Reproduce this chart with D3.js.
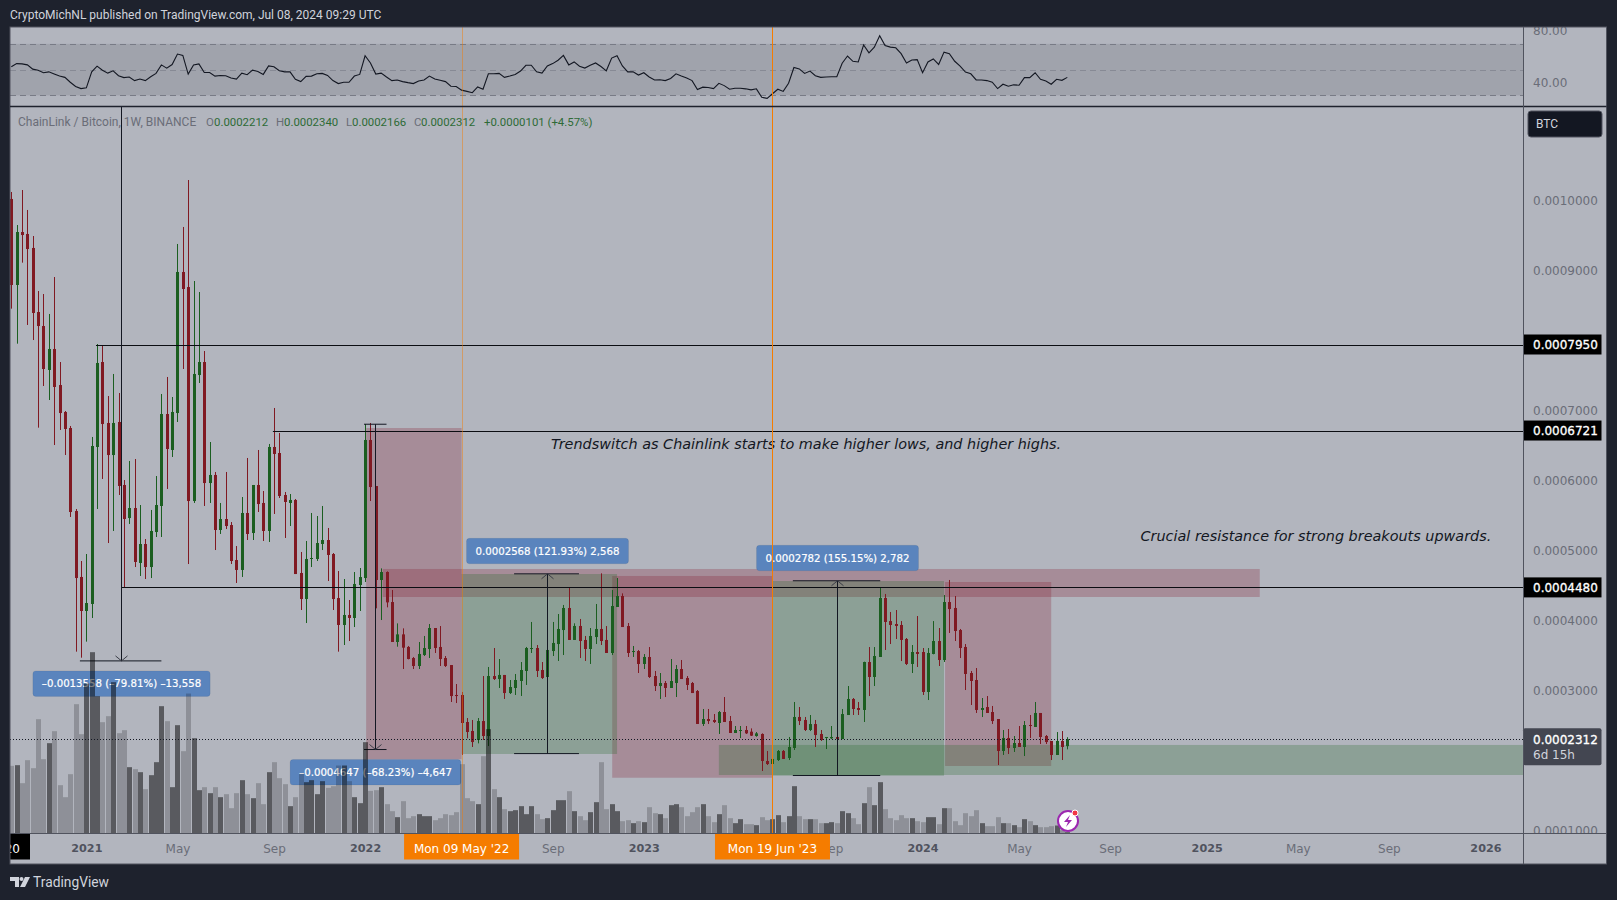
<html>

<head>
    <style>
        body { margin: 0; background: #1e222d; }
        svg { display: block; }
        text { font-family: "DejaVu Sans", sans-serif; }
        .head { font-family: Roboto, sans-serif; font-size: 12px; }
    </style>
</head>

<body>
    <svg id="container" width="1617" height="900"></svg>
</body>

<script src="https://cdn.jsdelivr.net/npm/d3@7"></script>
<script>
    // prices are in ticks of 0.0000001, weeks count from Mon 28 Sep 2020
    let opens = [
        10029,8800,9557,9529,9329,8414,8214,7586,7886,7371,
        6986,6757,5571,4629,4143,4243,6486,7700,6829,6371,
        6843,5943,5471,5614,4829,5100,4771,5271,5643,6957,
        6443,6971,8986,8771,5714,7514,7700,5971,6086,5300,
        5457,5371,4871,4729,5543,5257,5943,5686,5286,6486,
        6400,5800,5686,5729,4686,4314,4886,4886,5100,5157,
        4957,4328,3943,4086,4043,4514,4614,6586,5928,4586,
        4700,4271,3700,3809,3629,3471,3357,3514,3600,3900,
        3629,3471,3371,2943,2943,2557,2429,2300,2571,2357,
        3214,3171,3229,2971,3043,3143,3286,3600,3614,3300,
        3200,3571,3671,3871,4186,3729,3929,3729,3600,3771,
        3886,3729,3543,4200,4357,3928,3557,3571,3386,3486,
        3214,3071,3114,3043,3114,3314,3186,3114,3000,2529,
        2600,2586,2543,2700,2571,2400,2429,2443,2419,2357,
        2386,2000,1957,2014,2143,2043,2186,2629,2586,2443,
        2528,2386,2329,2324,2343,2314,2657,2886,2757,2729,
        3414,3200,3486,4329,3999,3957,3943,3743,3386,3557,
        3557,2986,3529,3714,3443,4271,4186,3871,3629,3257,
        3157,2729,2771,2700,2600,2143,2329,2186,2257,2200,
        2514,2486,2686,2357,2286,2086,2286,2212]
    let highs = [
        10129,9657,10157,9872,9500,8714,8671,8386,8914,7700,
        7000,6786,5600,4857,4957,6629,7957,7929,7214,7529,
        7257,6014,6286,6314,5657,5171,5586,6071,7243,7486,
        7200,9386,9629,10300,8857,8700,7857,6557,6129,5686,
        6129,5414,5071,5771,6329,5943,6443,5857,6529,7043,
        6686,5843,5814,5743,4986,5143,5543,5500,5643,5329,
        4971,4714,4600,4300,4700,4757,6814,6829,5928,4752,
        4709,4443,3966,3895,3643,3486,3700,3786,3957,3900,
        3928,3500,3371,3100,2986,2614,2586,2614,3214,3343,
        3614,3457,3229,3157,3243,3414,3629,3986,3657,3414,
        3857,3986,4100,4229,4471,3967,4029,3786,3900,4243,
        4681,3928,4443,4614,4395,3971,3643,3586,3528,3628,
        3286,3257,3143,3457,3371,3443,3214,3129,3014,2743,
        2743,2671,2714,2914,2643,2500,2500,2500,2466,2414,
        2395,2143,2086,2157,2157,2343,2843,2771,2629,2657,
        2586,2443,2343,2500,2419,2743,3071,2900,2843,3419,
        3628,3628,4471,4386,4129,4157,3999,3757,3657,4071,
        3614,3614,3999,3900,4371,4586,4357,3886,3671,3286,
        3328,2900,2928,2786,2600,2443,2457,2357,2500,2571,
        2657,2843,2686,2371,2286,2414,2428,2340]
    let lows = [
        8462,7962,9119,8229,8014,6762,7357,7157,6514,6729,
        6371,5486,3562,3476,3705,4043,5600,6029,5114,5286,
        5800,4480,5386,4771,4643,4600,4614,5200,5200,5886,
        6343,6843,7600,4814,5686,7400,5643,5686,5014,5243,
        5314,4814,4543,4629,5157,5157,5557,5143,5129,5529,
        5757,5186,5357,4671,4157,3971,4771,4857,5014,4571,
        4157,3562,3657,3714,3914,4143,4557,5714,4181,4014,
        4195,3700,3633,3314,3452,3314,3314,3500,3471,3543,
        3357,3343,2843,2828,2086,2324,2200,2252,2300,2214,
        3157,3043,2886,2957,2943,2929,3086,3543,3200,3171,
        3200,3500,3429,3514,3729,3729,3471,3429,3386,3671,
        3657,3543,3514,4200,3914,3486,3486,3257,3314,3186,
        3000,2886,2914,3043,2914,3171,3014,2971,2529,2500,
        2529,2543,2386,2557,2400,2400,2328,2386,2357,2347,
        1857,1943,1814,2000,2029,2014,2157,2514,2428,2428,
        2200,2286,2171,2314,2286,2314,2657,2657,2657,2557,
        2928,3071,3486,3586,3671,3743,3428,3371,3257,3343,
        2943,2871,3524,3357,3414,3829,3714,3471,3014,2800,
        2686,2628,2686,2529,1943,2086,2100,2129,2200,2071,
        2329,2486,2243,2243,2014,2086,2014,2166]
    let closes = [
        8800,9557,9514,9314,8400,8214,7600,7886,7343,6971,
        6743,5557,4614,4143,4257,6500,7686,6814,6371,6829,
        5929,5457,5614,4843,5100,4771,5286,5657,6957,6457,
        6986,8986,8743,5714,7529,7700,5971,6086,5300,5457,
        5357,4857,4729,5543,5243,5943,5671,5286,6486,6386,
        5786,5700,5729,4671,4314,4886,4900,5114,5157,4943,
        4314,3943,4086,4043,4529,4628,6586,5914,4586,4700,
        4266,3700,3809,3619,3457,3357,3529,3614,3900,3614,
        3457,3357,2928,2928,2543,2414,2271,2571,2357,3214,
        3171,3229,2971,3057,3157,3300,3614,3614,3286,3186,
        3586,3686,3886,4186,3729,3929,3714,3600,3786,3886,
        3714,3543,4214,4357,3914,3543,3571,3386,3486,3200,
        3071,3114,3043,3143,3314,3171,3086,2971,2529,2600,
        2571,2557,2700,2557,2400,2443,2443,2395,2362,2395,
        2000,1957,2029,2143,2029,2200,2629,2571,2443,2528,
        2371,2300,2343,2343,2314,2671,2886,2743,2729,3414,
        3200,3500,4329,3986,3943,3929,3729,3386,3557,3529,
        2986,3543,3714,3443,4271,4171,3857,3614,3243,3143,
        2729,2757,2686,2571,2143,2329,2186,2257,2200,2514,
        2500,2686,2343,2271,2086,2286,2200,2312]
    let volumes = [
        203,205,151,220,196,343,223,271,307,145,
        109,178,388,298,450,544,412,334,352,454,
        301,310,199,193,184,133,175,214,382,337,
        139,325,247,420,286,130,139,121,139,109,
        118,76,121,160,118,106,151,88,184,214,
        166,148,82,109,180,154,160,118,157,137,
        142,204,204,157,109,91,274,128,130,139,
        88,67,49,97,46,52,58,52,52,40,
        46,58,55,64,208,106,97,88,232,313,
        133,109,73,67,70,82,58,82,58,43,
        46,70,100,100,127,67,52,40,64,94,
        214,73,88,67,37,40,31,37,34,79,
        61,58,46,85,88,79,52,64,79,88,
        52,34,58,85,46,31,43,28,28,25,
        49,40,43,55,34,52,142,52,43,43,
        43,31,31,34,31,67,61,46,28,91,
        139,85,154,73,46,40,55,46,46,37,
        34,49,49,28,76,76,37,25,61,52,
        70,31,22,22,49,31,31,25,19,43,
        37,25,19,19,22,24,10,4]
    let rsi = [
        52.2,54.7,54.5,53.7,50.4,49.6,47.6,48.3,46.6,45.0,
        44.0,40.2,36.9,35.3,35.9,48.3,52.7,49.6,47.3,49.1,
        45.3,43.8,44.3,41.5,42.7,41.5,44.5,47.1,53.7,51.2,
        54.0,62.1,61.1,46.6,53.7,54.5,47.8,47.8,45.0,45.5,
        45.3,43.5,42.7,47.3,46.1,49.6,48.6,46.3,52.9,52.2,
        49.1,48.3,48.3,42.5,40.7,44.8,45.0,46.8,47.1,45.5,
        41.5,39.2,40.2,40.2,45.0,46.3,60.8,55.2,46.6,47.3,
        44.3,41.5,42.0,40.7,39.9,39.2,41.2,42.0,45.0,42.7,
        41.7,40.7,37.1,36.9,34.1,33.1,32.1,36.6,34.8,46.8,
        46.8,47.1,44.0,45.0,46.3,48.9,53.4,53.4,48.3,47.3,
        52.9,54.7,57.3,61.1,53.7,56.0,52.7,51.2,53.4,55.2,
        52.4,49.1,59.0,60.8,52.9,48.3,48.3,45.8,47.6,44.3,
        42.0,42.2,41.5,43.2,46.8,45.0,43.5,41.5,34.6,36.4,
        36.1,35.3,39.4,37.6,34.8,35.6,35.6,35.1,34.3,35.1,
        28.5,27.7,31.3,34.8,33.1,39.4,51.7,50.6,47.1,48.9,
        45.3,44.0,44.3,44.5,44.5,55.0,60.6,56.5,56.0,69.2,
        63.1,67.5,76.4,68.7,67.5,67.0,62.4,55.2,57.5,57.8,
        47.6,56.0,58.3,54.0,63.6,62.4,56.5,52.7,48.1,46.8,
        42.0,42.0,41.5,40.2,35.3,38.7,37.1,38.2,37.9,43.8,
        43.8,47.6,42.5,41.2,38.7,42.5,41.7,44.0]

    let timeWeeks = [14, 31, 49, 66, 101, 118, 153, 170, 188, 205, 223, 240, 257, 275]
    let timeLabels = ["2021", "May", "Sep", "2022", "Sep", "2023", "Sep", "2024", "May", "Sep", "2025", "May", "Sep", "2026"]
    let yearLabels = ["2021", "2022", "2023", "2024", "2025", "2026"]
    let priceTicks = [1000, 3000, 4000, 5000, 6000, 7000, 9000, 10000]
    let rsiTicks = [40, 80]
    let rsiLevels = [70, 50, 30]

    let lastPrice = 2312
    let levels = [7950, 6721, 4480]
    let levelStart = [15.8, 48.8, 20.65]
    let markerWeeks = [84, 142]
    let markerLabels = ["Mon 09 May '22", "Mon 19 Jun '23"]

    // week from, week to, price top, price bottom
    let redBoxes = [[66.2, 84, 6757, 2024], [69.3, 232.9, 4743, 4343], [112.1, 142, 4643, 1761], [174.2, 194, 4557, 1929]]
    let greenBoxes = [[84, 113, 4671, 2100], [142, 174, 4571, 1790], [132, 282, 2229, 1800]]

    let measureWeeks = [[12.8, 28], [65.8, 70], [93.8, 105.9], [145.8, 162.1]]
    let measureFrom = [16988, 6811, 2106, 1793]
    let measureTo = [3430, 2164, 4674, 4575]
    let measureLabels = ["\u20130.0013558 (\u201379.81%) \u201313,558", "\u20130.0004647 (\u201368.23%) \u20134,647",
        "0.0002568 (121.93%) 2,568", "0.0002782 (155.15%) 2,782"]

    let left = 10, axisX = 1523, right = 1606.5
    let rsiTop = 27, mainTop = 107, mainBottom = 833.5, bottom = 864

    let x = d3.scaleLinear().domain([0, 197]).range([11.3, 1067.3])
    let y = d3.scaleLinear().domain([1000, 10000]).range([831, 201])
    let yVolume = d3.scaleLinear().domain([0, 1000]).range([mainBottom, mainBottom - 333.3])
    let yRsi = d3.scaleLinear().domain([30, 70]).range([95.4, 43.9])
    let priceText = d => (d * 1e-7).toFixed(7)

    let svg = d3.select("#container")
    let defs = svg.append("defs")
    function clip(id, x0, y0, w, h) {
        defs.append("clipPath").attr("id", id).append("rect")
            .attr("x", x0).attr("y", y0).attr("width", w).attr("height", h)
    }
    clip("clipMain", left, mainTop, axisX - left, mainBottom - mainTop)
    clip("clipRsi", left, rsiTop, axisX - left, mainTop - rsiTop)
    clip("clipPrice", axisX, mainTop, right - axisX, mainBottom - mainTop)
    clip("clipRsiAxis", axisX, rsiTop, right - axisX, mainTop - rsiTop)
    clip("clipTime", left, mainBottom, axisX - left, bottom - mainBottom)

    svg.append("text").attr("class", "head")
        .attr("x", 10).attr("y", 19).attr("fill", "#d1d4dc")
        .text("CryptoMichNL published on TradingView.com, Jul 08, 2024 09:29 UTC")

    svg.append("rect")
        .attr("x", left).attr("y", rsiTop)
        .attr("width", right - left).attr("height", bottom - rsiTop)
        .attr("fill", "#b2b5be")

    // RSI pane
    let rsiPane = svg.append("g").attr("clip-path", "url(#clipRsi)")
    rsiPane.append("rect")
        .attr("x", left).attr("width", axisX - left)
        .attr("y", yRsi(70)).attr("height", yRsi(30) - yRsi(70))
        .attr("fill", "#787b86").attr("opacity", 0.3)
    rsiPane.selectAll(".level").data(rsiLevels).enter().append("line")
        .attr("x1", left).attr("x2", axisX)
        .attr("y1", d => Math.round(yRsi(d)) + 0.5).attr("y2", d => Math.round(yRsi(d)) + 0.5)
        .attr("stroke", "#787b86")
        .attr("opacity", d => d == 50 ? 0.6 : 1)
        .attr("stroke-dasharray", "6 4")
    rsiPane.append("path")
        .attr("d", d3.line().x((d, i) => x(i)).y(d => yRsi(d))(rsi))
        .attr("fill", "none").attr("stroke", "#131722").attr("stroke-width", 1.1)

    // boxes sit under the candles
    let main = svg.append("g").attr("clip-path", "url(#clipMain)")
    function boxes(data, color) {
        main.selectAll(null).data(data).enter().append("rect")
            .attr("x", d => x(d[0])).attr("width", d => x(d[1]) - x(d[0]))
            .attr("y", d => y(d[2])).attr("height", d => y(d[3]) - y(d[2]))
            .attr("fill", color).attr("opacity", 0.25)
    }
    boxes(redBoxes, "rgb(130,20,40)")
    boxes(greenBoxes, "rgb(26,100,30)")

    let green = "#1b5e20", red = "#801922"
    let candles = main.selectAll(".candle").data(opens).enter().append("g")
    let isUp = i => closes[i] >= opens[i]
    candles.append("line")
        .attr("x1", (d, i) => Math.round(x(i)) + 0.5).attr("x2", (d, i) => Math.round(x(i)) + 0.5)
        .attr("y1", (d, i) => y(highs[i])).attr("y2", (d, i) => y(lows[i]))
        .attr("stroke", (d, i) => isUp(i) ? green : red)
    candles.append("rect")
        .attr("x", (d, i) => Math.round(x(i)) - 1).attr("width", 3)
        .attr("y", (d, i) => y(Math.max(opens[i], closes[i])))
        .attr("height", (d, i) => Math.max(1, Math.abs(y(opens[i]) - y(closes[i]))))
        .attr("fill", (d, i) => isUp(i) ? green : red)

    // level lines
    main.selectAll(".hline").data(levels).enter().append("line")
        .attr("x1", (d, i) => x(levelStart[i])).attr("x2", axisX)
        .attr("y1", d => Math.round(y(d)) + 0.5).attr("y2", d => Math.round(y(d)) + 0.5)
        .attr("stroke", "#0b0d12").attr("stroke-width", 1)

    // measure tools, arrow and two end ticks
    measureLabels.forEach((label, i) => {
        let x0 = x(measureWeeks[i][0]), x1 = x(measureWeeks[i][1])
        let mid = Math.round((x0 + x1) / 2) + 0.5
        let yFrom = y(measureFrom[i]), yTo = y(measureTo[i])
        let dir = yTo > yFrom ? 1 : -1
        let g = main.append("g").attr("fill", "none").attr("stroke", "#131722")
        g.append("path").attr("d", `M${x0},${yFrom}H${x1}M${x0},${yTo}H${x1}M${mid},${yFrom}V${yTo}`)
        g.append("path").attr("d", `M${mid - 6},${yTo - dir * 5}L${mid},${yTo}L${mid + 6},${yTo - dir * 5}`)
            .attr("stroke", "#3a3d47")

        let top = dir > 0 ? yTo + 10 : yTo - 35.5
        let box = main.append("rect")
            .attr("y", top).attr("height", 25.5).attr("rx", 3)
            .attr("fill", "#5a84bd").attr("stroke", "#000").attr("stroke-opacity", 0.06)
        let txt = main.append("text")
            .attr("x", mid).attr("y", top + 16.5).attr("text-anchor", "middle")
            .attr("font-size", 10.2).attr("fill", "#fff").attr("stroke", "#fff").attr("stroke-width", 0.2).text(label)
        let w = txt.node().getComputedTextLength() + 18
        box.attr("x", mid - w / 2).attr("width", w)
    })

    main.append("text").attr("x", 551).attr("y", 449)
        .attr("font-size", 14.4).attr("font-style", "italic").attr("fill", "#131722")
        .text("Trendswitch as Chainlink starts to make higher lows, and higher highs.")
    main.append("text").attr("x", 1140.5).attr("y", 541)
        .attr("font-size", 14.4).attr("font-style", "italic").attr("fill", "#131722")
        .text("Crucial resistance for strong breakouts upwards.")

    // volume goes over everything in the pane, black with alpha
    main.selectAll(".vol").data(volumes).enter().append("rect")
        .attr("x", (d, i) => Math.round(x(i)) - 2).attr("width", 5)
        .attr("y", d => yVolume(d)).attr("height", d => yVolume(0) - yVolume(d))
        .attr("fill", "#000").attr("opacity", (d, i) => isUp(i) ? 0.5 : 0.2)

    main.append("line")
        .attr("x1", left).attr("x2", axisX)
        .attr("y1", Math.round(y(lastPrice)) + 0.5).attr("y2", Math.round(y(lastPrice)) + 0.5)
        .attr("stroke", "#131722").attr("stroke-dasharray", "1 2")

    // date lines run through both panes
    svg.selectAll(".marker").data(markerWeeks).enter().append("line")
        .attr("x1", d => Math.round(x(d)) + 0.5).attr("x2", d => Math.round(x(d)) + 0.5)
        .attr("y1", rsiTop).attr("y2", mainBottom)
        .attr("stroke", "#f57c00").attr("opacity", (d, i) => i == 0 ? 0.45 : 1)

    // spark icon next to the last bar
    let icon = svg.append("g").attr("transform", "translate(1068,821)")
    icon.append("circle").attr("r", 10).attr("fill", "#fff").attr("stroke", "#9c27b0").attr("stroke-width", 2)
    icon.append("path").attr("d", "M2,-6L-4,1H0L-2,6L4,-1H0Z").attr("fill", "#9c27b0")
    icon.append("circle").attr("cx", 7).attr("cy", -8).attr("r", 3).attr("fill", "#f23645").attr("stroke", "#fff")

    // axes
    let timeAxis = svg.append("g").attr("clip-path", "url(#clipTime)")
    let timeG = timeAxis.append("g")
        .attr("transform", `translate(0,${mainBottom})`)
        .call(d3.axisBottom(x).tickValues(timeWeeks).tickSize(0).tickPadding(11)
            .tickFormat((d, i) => timeLabels[i]))
    timeG.select(".domain").remove()
    timeG.selectAll("text")
        .attr("font-family", "DejaVu Sans")
        .attr("font-size", d => yearLabels.includes(timeLabels[timeWeeks.indexOf(d)]) ? 11.2 : 12)
        .attr("fill", d => yearLabels.includes(timeLabels[timeWeeks.indexOf(d)]) ? "#50535e" : "#6a6d78")
        .attr("font-weight", d => yearLabels.includes(timeLabels[timeWeeks.indexOf(d)]) ? "bold" : "normal")

    // black date label cut by the left edge
    timeAxis.append("rect").attr("x", left).attr("y", mainBottom).attr("width", 20).attr("height", 26).attr("fill", "#000")
    timeAxis.append("text").attr("x", 20).attr("y", 853).attr("text-anchor", "end")
        .attr("font-size", 12).attr("fill", "#fff").text("Mon 28 Sep '20")

    markerLabels.forEach((label, i) => {
        let mx = x(markerWeeks[i])
        timeAxis.append("rect").attr("x", mx - 57.5).attr("y", mainBottom).attr("width", 115).attr("height", 26).attr("fill", "#f57c00")
        timeAxis.append("text").attr("x", mx).attr("y", 853).attr("text-anchor", "middle")
            .attr("font-size", 12).attr("fill", "#fff").text(label)
    })

    let priceG = svg.append("g").attr("clip-path", "url(#clipPrice)").append("g")
        .attr("transform", `translate(${axisX},0)`)
        .call(d3.axisRight(y).tickValues(priceTicks).tickSize(0).tickPadding(10).tickFormat(priceText))
    priceG.select(".domain").remove()
    priceG.selectAll("text").attr("font-size", 12).attr("font-family", "DejaVu Sans").attr("fill", "#6a6d78")

    let rsiG = svg.append("g").attr("clip-path", "url(#clipRsiAxis)").append("g")
        .attr("transform", `translate(${axisX},0)`)
        .call(d3.axisRight(yRsi).tickValues(rsiTicks).tickSize(0).tickPadding(10).tickFormat(d => d.toFixed(2)))
    rsiG.select(".domain").remove()
    rsiG.selectAll("text").attr("font-size", 12).attr("font-family", "DejaVu Sans").attr("fill", "#6a6d78")

    // price labels on the axis
    levels.forEach(d => {
        svg.append("rect").attr("x", axisX).attr("y", y(d) - 10).attr("width", 78.5).attr("height", 20).attr("fill", "#000")
        svg.append("text").attr("x", axisX + 10).attr("y", y(d) + 4.5)
            .attr("font-size", 12).attr("stroke", "#fff").attr("stroke-width", 0.3).attr("fill", "#fff").text(priceText(d))
    })
    svg.append("rect").attr("x", axisX).attr("y", y(lastPrice) - 11).attr("width", 78.5).attr("height", 37)
        .attr("rx", 2).attr("fill", "#434651")
    svg.append("text").attr("x", axisX + 10).attr("y", y(lastPrice) + 4.5)
        .attr("font-size", 12).attr("stroke", "#fff").attr("stroke-width", 0.3).attr("fill", "#fff").text(priceText(lastPrice))
    svg.append("text").attr("x", axisX + 10).attr("y", y(lastPrice) + 20)
        .attr("font-size", 12).attr("fill", "#d1d4dc").text("6d 15h")

    // pane borders
    let lineColor = "#50535e"
    svg.append("rect")
        .attr("x", left).attr("y", rsiTop).attr("width", right - left).attr("height", bottom - rsiTop)
        .attr("fill", "none").attr("stroke", lineColor)
    svg.append("line").attr("x1", left).attr("x2", right).attr("y1", 106.5).attr("y2", 106.5).attr("stroke", "#1e222d").attr("stroke-width", 1.5)
    svg.append("line").attr("x1", axisX + 0.5).attr("x2", axisX + 0.5).attr("y1", rsiTop).attr("y2", bottom).attr("stroke", lineColor)
    svg.append("line").attr("x1", left).attr("x2", right).attr("y1", mainBottom).attr("y2", mainBottom).attr("stroke", lineColor)

    // currency button
    svg.append("rect").attr("x", 1528).attr("y", 111).attr("width", 74).attr("height", 26).attr("rx", 3)
        .attr("fill", "#131722").attr("stroke", "#50535e")
    svg.append("text").attr("class", "head").attr("x", 1536).attr("y", 128).attr("font-size", 12).attr("fill", "#d1d4dc").text("BTC")

    // legend line
    let legendGray = "#6a6d78", legendGreen = "#2e6b36"
    let legend = [
        [18, "ChainLink / Bitcoin, 1W, BINANCE", legendGray, 12],
        [206, "O", legendGray, 11.4], [214, "0.0002212", legendGreen, 11.4],
        [276, "H", legendGray, 11.4], [284, "0.0002340", legendGreen, 11.4],
        [346, "L", legendGray, 11.4], [352, "0.0002166", legendGreen, 11.4],
        [414, "C", legendGray, 11.4], [421, "0.0002312", legendGreen, 11.4],
        [484, "+0.0000101 (+4.57%)", legendGreen, 11.4]]
    svg.selectAll(".legend").data(legend).enter().append("text").attr("class", "head")
        .attr("x", d => d[0]).attr("y", 126).attr("fill", d => d[2])
        .style("font-size", d => d[3] + "px").text(d => d[1])

    // footer
    svg.append("path").attr("d", "M10,877H19V887H15V881H10ZM20,887L25,877H30L25,887Z").attr("fill", "#d1d4dc")
    svg.append("circle").attr("cx", 21.5).attr("cy", 879).attr("r", 2).attr("fill", "#d1d4dc")
    svg.append("text").attr("class", "head").attr("x", 33).attr("y", 887).style("font-size", "13.8px").attr("fill", "#d1d4dc").text("TradingView")
</script>

</html>
